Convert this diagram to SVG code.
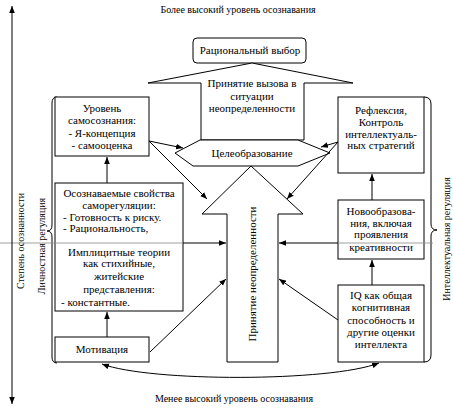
<svg xmlns="http://www.w3.org/2000/svg" width="453" height="413" viewBox="0 0 453 413">
<defs>
<marker id="ah" viewBox="0 0 10 10" refX="10" refY="5" markerWidth="7" markerHeight="7" markerUnits="userSpaceOnUse" orient="auto-start-reverse"><path d="M0,1 L10,5 L0,9 z" fill="#000"/></marker>
<style>
text{font-family:"Liberation Serif","Times New Roman",serif;font-size:11px;fill:#000}
.c{text-anchor:middle}
.sm{font-size:10px}
.box{fill:#fff;stroke:#000;stroke-width:1}
.ln{stroke:#000;stroke-width:1;fill:none}
.arr{stroke:#000;stroke-width:1;fill:none;marker-end:url(#ah)}
.gr{stroke:#888;stroke-width:0.8;fill:none}
</style>
</defs>
<rect x="0" y="0" width="453" height="413" fill="#fff"/>

<g id="labels">
<text class="c sm" x="238" y="13">Более высокий уровень осознавания</text>
<text class="c sm" x="234" y="402">Менее высокий уровень осознавания</text>
<text class="c sm" transform="translate(24,241) rotate(-90)">Степень осознанности</text>
<text class="c sm" transform="translate(45,246) rotate(-90)">Личностная регуляция</text>
<text class="c sm" transform="translate(450,239) rotate(-90)">Интеллектуальная регуляция</text>
</g>

<g id="braces">
<path class="ln" d="M57,97 Q52,97 52,103 L52,225 Q52,231 47,231 Q52,231 52,237 L52,357 Q52,363 57,363"/>
<path class="ln" d="M424,97 Q431,97 431,104 L431,224 Q431,230 437,230 Q431,230 431,236 L431,355 Q431,362 424,362"/>
</g>

<g id="rational">
<rect class="box" x="193" y="38" width="113" height="25" rx="4"/>
<text class="c" x="250" y="54">Рациональный выбор</text>
</g>

<g id="challenge">
<polygon class="box" points="252,63 353,83 304,83 304,140 201,140 201,83 148,83"/>
<text class="c" x="252" y="87">Принятие вызова в</text>
<text class="c" x="252" y="100">ситуации</text>
<text class="c" x="252" y="112">неопределенности</text>
</g>

<g id="goal">
<polygon class="box" points="200,140 298,140 330,153 298,166 193,166 175,153"/>
<text class="c" x="252" y="157">Целеобразование</text>
</g>

<g id="uncertainty">
<polygon class="box" points="251,166 303,214 278,214 278,362 227,362 227,214 202,214"/>
<text class="c" transform="translate(256,274) rotate(-90)">Принятие неопределенности</text>
</g>

<g id="selfaware">
<rect class="box" x="55" y="97" width="94" height="59"/>
<text class="c" x="102" y="112">Уровень</text>
<text class="c" x="102" y="124">самосознания:</text>
<text class="c" x="102" y="137">- Я-концепция</text>
<text class="c" x="102" y="149">- самооценка</text>
</g>

<g id="selfreg">
<rect class="box" x="55" y="183" width="128" height="128"/>
<text class="c" x="119" y="197">Осознаваемые свойства</text>
<text class="c" x="119" y="209">саморегуляции:</text>
<text x="63" y="221">- Готовность к риску.</text>
<text x="63" y="232">- Рациональность,</text>
<text class="c" x="119" y="256">Имплицитные теории</text>
<text class="c" x="119" y="267">как стихийные,</text>
<text class="c" x="119" y="280">житейские</text>
<text class="c" x="119" y="293">представления:</text>
<text x="61" y="306">- константные.</text>
</g>

<g id="motivation">
<rect class="box" x="55" y="337" width="94" height="25"/>
<text class="c" x="102" y="353">Мотивация</text>
</g>

<g id="reflexion">
<rect class="box" x="338" y="97" width="86" height="76"/>
<text class="c" x="381" y="114">Рефлексия,</text>
<text class="c" x="381" y="126">Контроль</text>
<text class="c" x="381" y="138">интеллектуаль-</text>
<text class="c" x="381" y="149">ных стратегий</text>
</g>

<g id="neoformation">
<rect class="box" x="338" y="200" width="86" height="59"/>
<text class="c" x="381" y="215">Новообразова-</text>
<text class="c" x="381" y="227">ния, включая</text>
<text class="c" x="381" y="238">проявления</text>
<text class="c" x="381" y="251">креативности</text>
</g>

<g id="iq">
<rect class="box" x="338" y="285" width="86" height="77"/>
<text class="c" x="381" y="299">IQ как общая</text>
<text class="c" x="381" y="311">когнитивная</text>
<text class="c" x="381" y="324">способность и</text>
<text class="c" x="381" y="336">другие оценки</text>
<text class="c" x="381" y="348">интеллекта</text>
</g>

<g id="connectors">
<line class="gr" x1="0" y1="243" x2="183" y2="243"/>
<line class="gr" x1="338" y1="243" x2="433" y2="243"/>
<line class="ln" x1="12" y1="6" x2="12" y2="404" marker-start="url(#ah)" marker-end="url(#ah)"/>
<path class="arr" d="M107,337 L107,312"/>
<path class="arr" d="M107,183 L107,157"/>
<path class="arr" d="M372,285 L372,260"/>
<path class="arr" d="M372,200 L372,174"/>
<path class="arr" d="M149,141 L183,148"/>
<path class="arr" d="M149,141 L207,199"/>
<path class="arr" d="M338,142 L321,147"/>
<path class="arr" d="M338,142 L287,199"/>
<path class="arr" d="M183,243 L226,243"/>
<path class="arr" d="M338,243 L279,243"/>
<path class="arr" d="M150,352 L226,279"/>
<path class="arr" d="M338,320 L279,279"/>
<path class="ln" d="M102,364 C150,382 330,382 379,363" marker-start="url(#ah)" marker-end="url(#ah)"/>
</g>
</svg>
